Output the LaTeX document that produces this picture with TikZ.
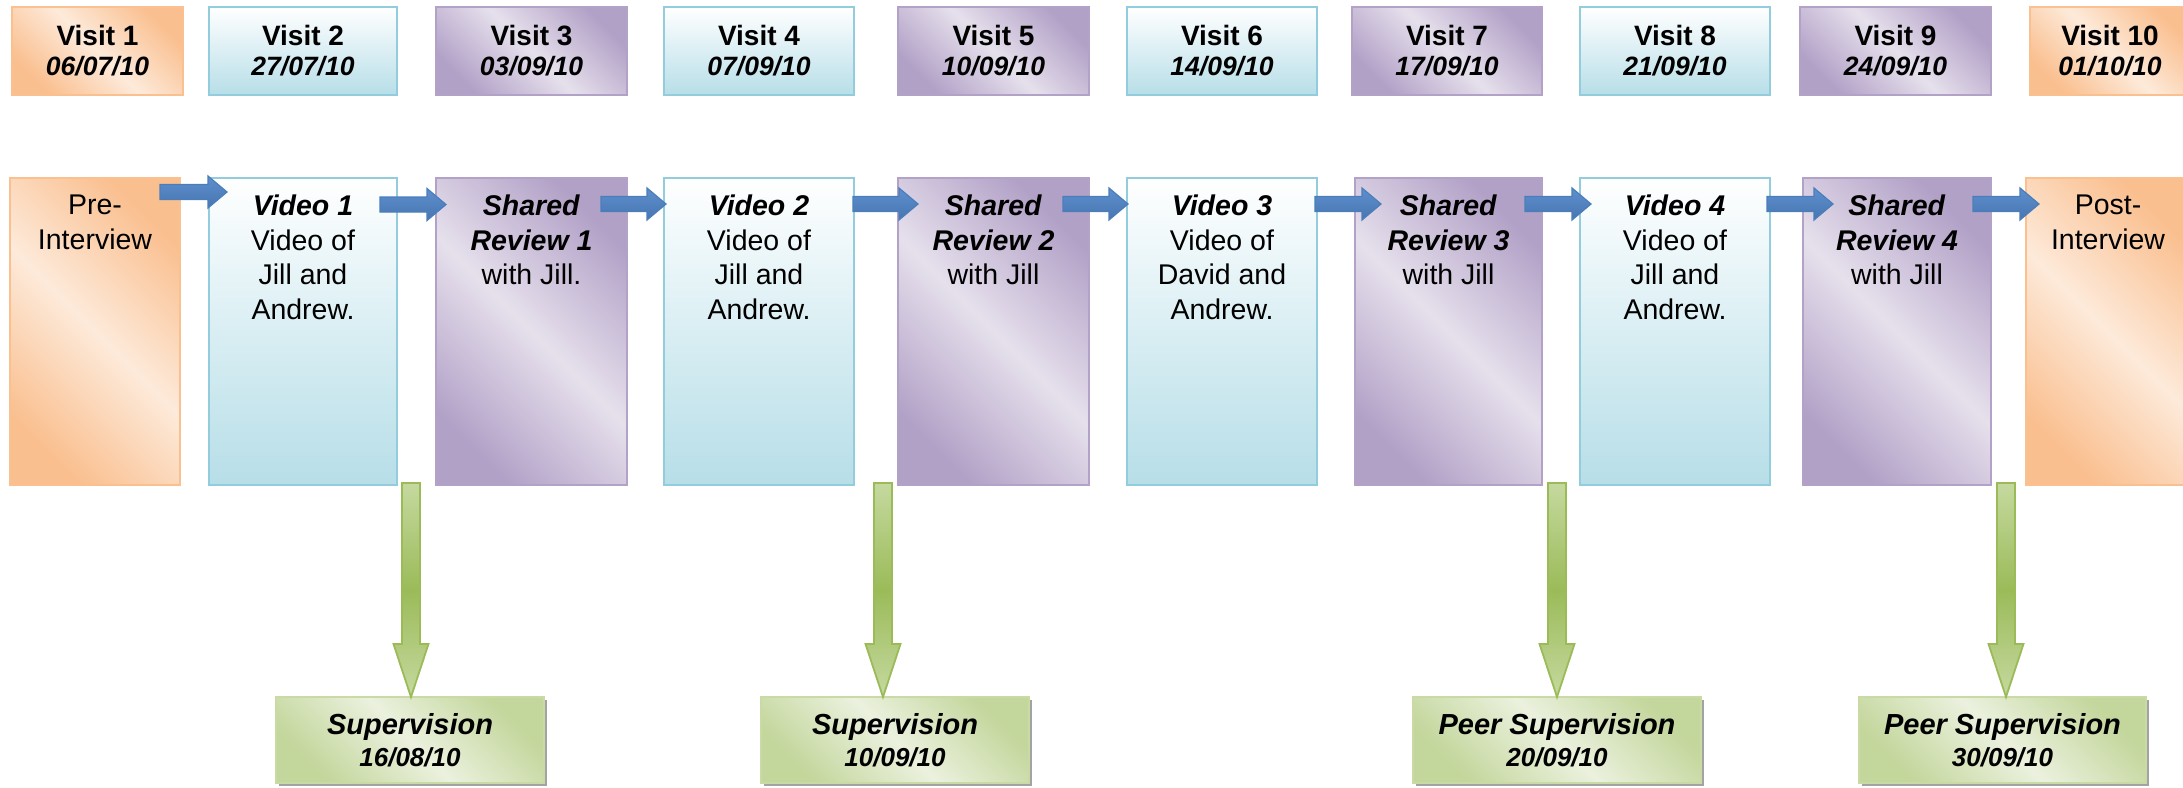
\documentclass[tikz,border=0pt]{standalone}
\usepackage{fontspec}
\setmainfont{Liberation Sans}
\usetikzlibrary{calc,shadows}

\definecolor{orD}{HTML}{FABF8F}
\definecolor{orL}{HTML}{FDEADA}
\definecolor{orB}{HTML}{FAC090}
\definecolor{blD}{HTML}{B7DEE8}
\definecolor{blM}{HTML}{D9EEF3}
\definecolor{blB}{HTML}{93CDDD}
\definecolor{puD}{HTML}{B2A1C7}
\definecolor{puL}{HTML}{E6E0EC}
\definecolor{puB}{HTML}{B3A2C7}
\definecolor{grD}{HTML}{C3D69B}
\definecolor{grL}{HTML}{EBF1DE}
\definecolor{grB}{HTML}{C9DAA5}
\definecolor{grA}{HTML}{9BBB59}
\definecolor{grAL}{HTML}{C5D99F}
\definecolor{bluT}{HTML}{5E90CE}
\definecolor{bluBt}{HTML}{4775B0}
\definecolor{bluE}{HTML}{4A7EBB}

\newcommand{\BI}[1]{\textbf{\textit{#1}}}
\newcommand{\DateFont}{\fontsize{26.5}{30}\selectfont\bfseries\itshape}
\newcommand{\SupDate}{\fontsize{26}{32}\selectfont}

\newcommand{\BlockRight}[2]{%
  \draw[barrow] ($(#1)+(0,-7.5)$) -- ($(#2)+(-19,-7.5)$) -- ($(#2)+(-19,-16)$) -- (#2)
    -- ($(#2)+(-19,16)$) -- ($(#2)+(-19,7.5)$) -- ($(#1)+(0,7.5)$) -- cycle;}
\newcommand{\BlockDown}[2]{%
  \draw[garrow] ($(#1)+(-9,0)$) -- ($(#1)+(9,0)$) -- ($(#2)+(9,-53)$) -- ($(#2)+(17.5,-53)$)
    -- (#2) -- ($(#2)+(-17.5,-53)$) -- ($(#2)+(-9,-53)$) -- cycle;}

\tikzset{
  box/.style={rectangle, inner sep=0pt, outer sep=0pt, line width=2.5pt, align=center},
  orbox/.style={box, draw=orB, top color=orD, bottom color=orD, shading angle=-45, middle color=orL},
  pubox/.style={box, draw=puB, top color=puD, bottom color=puD, shading angle=-45, middle color=puL},
  bltop/.style={box, draw=blB, top color=white, bottom color=blD},
  blbot/.style={box, draw=blB, top color=white, bottom color=blD, middle color=blM},
  topbox/.style={minimum height=88pt, font=\fontsize{28}{30}\selectfont},
  botbox/.style={minimum height=307pt},
  btext/.style={anchor=north, inner sep=0pt, align=center, font=\fontsize{28.5}{34.5}\selectfont},
  supbox/.style={box, draw=grB, top color=grD, bottom color=grD, shading angle=-45, middle color=grL,
    minimum height=86pt, font=\fontsize{29}{32}\selectfont\bfseries\itshape,
    drop shadow={shadow xshift=3pt, shadow yshift=-3pt, fill=black!45, opacity=0.8}},
  barrow/.style={draw=bluE, line width=1.2pt, line join=miter, top color=bluT, bottom color=bluBt},
  garrow/.style={draw=grA, line width=1.8pt, line join=miter, top color=grAL, bottom color=grAL, middle color=grA},
}

\begin{document}
\begin{tikzpicture}[x=1pt,y=-1pt]
\useasboundingbox (0,0) rectangle (2183,787);
\clip (0,0) rectangle (2183,787);

% top row
\node[orbox, topbox, minimum width=171pt] (v1) at (97.5,51) {\textbf{Visit 1}\\{\DateFont 06/07/10}};
\node[bltop, topbox, minimum width=188pt] (v2) at (303,51) {\textbf{Visit 2}\\{\DateFont 27/07/10}};
\node[pubox, topbox, minimum width=191pt] (v3) at (531.5,51) {\textbf{Visit 3}\\{\DateFont 03/09/10}};
\node[bltop, topbox, minimum width=190pt] (v4) at (759,51) {\textbf{Visit 4}\\{\DateFont 07/09/10}};
\node[pubox, topbox, minimum width=191pt] (v5) at (993.5,51) {\textbf{Visit 5}\\{\DateFont 10/09/10}};
\node[bltop, topbox, minimum width=190pt] (v6) at (1222,51) {\textbf{Visit 6}\\{\DateFont 14/09/10}};
\node[pubox, topbox, minimum width=190pt] (v7) at (1447,51) {\textbf{Visit 7}\\{\DateFont 17/09/10}};
\node[bltop, topbox, minimum width=190pt] (v8) at (1675,51) {\textbf{Visit 8}\\{\DateFont 21/09/10}};
\node[pubox, topbox, minimum width=191pt] (v9) at (1895.5,51) {\textbf{Visit 9}\\{\DateFont 24/09/10}};
\node[orbox, topbox, minimum width=160pt] (v10) at (2110,51) {\textbf{Visit 10}\\{\DateFont 01/10/10}};

% bottom row
\node[orbox, botbox, minimum width=170pt] (b1) at (95,331.5) {};
\node[blbot, botbox, minimum width=188pt] (b2) at (303,331.5) {};
\node[pubox, botbox, minimum width=191pt] (b3) at (531.5,331.5) {};
\node[blbot, botbox, minimum width=190pt] (b4) at (759,331.5) {};
\node[pubox, botbox, minimum width=191pt] (b5) at (993.5,331.5) {};
\node[blbot, botbox, minimum width=190pt] (b6) at (1222,331.5) {};
\node[pubox, botbox, minimum width=187pt] (b7) at (1448.5,331.5) {};
\node[blbot, botbox, minimum width=190pt] (b8) at (1675,331.5) {};
\node[pubox, botbox, minimum width=188pt] (b9) at (1897,331.5) {};
\node[orbox, botbox, minimum width=164pt] (b10) at (2108,331.5) {};

\node[btext] (t1) at ($(b1.north)+(0,17)$) {Pre-\\Interview};
\node[btext] (t2) at ($(b2.north)+(0,17)$) {\BI{Video 1}\\Video of\\Jill and\\Andrew.};
\node[btext] (t3) at ($(b3.north)+(0,17)$) {\BI{Shared}\\\BI{Review 1}\\with Jill.};
\node[btext] (t4) at ($(b4.north)+(0,17)$) {\BI{Video 2}\\Video of\\Jill and\\Andrew.};
\node[btext] (t5) at ($(b5.north)+(0,17)$) {\BI{Shared}\\\BI{Review 2}\\with Jill};
\node[btext] (t6) at ($(b6.north)+(0,17)$) {\BI{Video 3}\\Video of\\David and\\Andrew.};
\node[btext] (t7) at ($(b7.north)+(0,17)$) {\BI{Shared}\\\BI{Review 3}\\with Jill};
\node[btext] (t8) at ($(b8.north)+(0,17)$) {\BI{Video 4}\\Video of\\Jill and\\Andrew.};
\node[btext] (t9) at ($(b9.north)+(0,17)$) {\BI{Shared}\\\BI{Review 4}\\with Jill};
\node[btext] (t10) at ($(b10.north)+(0,17)$) {Post-\\Interview};

% supervision boxes
\node[supbox, minimum width=268pt] (s1) at (410,740) {Supervision\\{\SupDate 16/08/10}};
\node[supbox, minimum width=268pt] (s2) at (895,740) {Supervision\\{\SupDate 10/09/10}};
\node[supbox, minimum width=288pt] (s3) at (1557,740) {Peer Supervision\\{\SupDate 20/09/10}};
\node[supbox, minimum width=287pt] (s4) at (2002.5,740) {Peer Supervision\\{\SupDate 30/09/10}};

% blue connectors
\coordinate (a1s) at (160,192);    \coordinate (a1t) at (227,192);
\coordinate (a2s) at (380,204.5);  \coordinate (a2t) at (446,204.5);
\coordinate (a3s) at (601,204);    \coordinate (a3t) at (666,204);
\coordinate (a4s) at (853,204);    \coordinate (a4t) at (918,204);
\coordinate (a5s) at (1063,204);   \coordinate (a5t) at (1128,204);
\coordinate (a6s) at (1315,204);   \coordinate (a6t) at (1381,204);
\coordinate (a7s) at (1525,204);   \coordinate (a7t) at (1591,204);
\coordinate (a8s) at (1767,204);   \coordinate (a8t) at (1833,204);
\coordinate (a9s) at (1973,204);   \coordinate (a9t) at (2039,204);
\BlockRight{a1s}{a1t}
\BlockRight{a2s}{a2t}
\BlockRight{a3s}{a3t}
\BlockRight{a4s}{a4t}
\BlockRight{a5s}{a5t}
\BlockRight{a6s}{a6t}
\BlockRight{a7s}{a7t}
\BlockRight{a8s}{a8t}
\BlockRight{a9s}{a9t}

% green connectors
\coordinate (g1s) at (411,483);  \coordinate (g1t) at (g1s |- s1.north);
\coordinate (g2s) at (883,483);  \coordinate (g2t) at (g2s |- s2.north);
\coordinate (g3s) at (1557,483); \coordinate (g3t) at (g3s |- s3.north);
\coordinate (g4s) at (2006,483); \coordinate (g4t) at (g4s |- s4.north);
\BlockDown{g1s}{g1t}
\BlockDown{g2s}{g2t}
\BlockDown{g3s}{g3t}
\BlockDown{g4s}{g4t}
\end{tikzpicture}
\end{document}
